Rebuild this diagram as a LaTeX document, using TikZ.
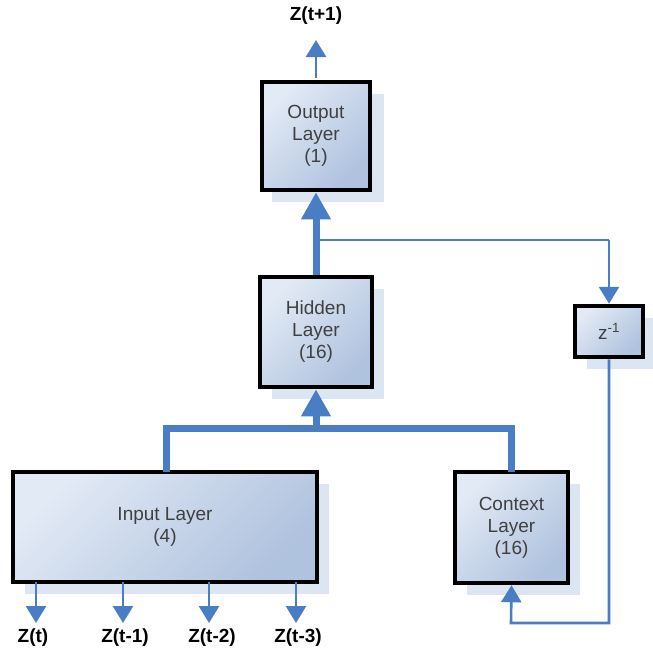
\documentclass[tikz,border=0pt]{standalone}
\usepackage{fontspec}
\setmainfont{Liberation Sans}
\usetikzlibrary{arrows.meta}
\definecolor{arr}{HTML}{4A7EC4}
\definecolor{shad}{HTML}{DCE5F2}
\definecolor{light}{HTML}{E2EAF5}
\definecolor{dark}{HTML}{AFC2DE}
\definecolor{txt}{HTML}{404040}
\tikzset{
  layer/.style={draw=black, line width=4.5pt, top color=light, bottom color=dark, shading angle=45,
    text=txt, font=\fontsize{19}{22}\selectfont, align=center, inner sep=0pt},
  shadowbox/.style={fill=shad, draw=none},
  thin/.style={draw=arr, line width=2.6pt},
  thick/.style={draw=arr, line width=7pt},
  thinarrow/.style={thin, -{Triangle[length=17pt,width=20pt]}},
  thickarrow/.style={thick, -{Triangle[length=27pt,width=28pt]}},
  lab/.style={font=\bfseries\fontsize{19}{22}\selectfont, text=black, inner sep=0pt}
}
\begin{document}
\begin{tikzpicture}[x=1pt,y=-1pt]
\useasboundingbox (0,0) rectangle (653,651);
% shadows
\fill[shad] (272,94) rectangle (384,202);
\fill[shad] (272,289) rectangle (384,399);
\fill[shad] (587,318) rectangle (655,369);
\fill[shad] (25,484) rectangle (329,594);
\fill[shad] (467,484) rectangle (580,595);
% boxes
\node[layer, minimum width=108pt, minimum height=108pt] (out) at (316,136) {Output\\Layer\\(1)};
\node[layer, minimum width=112pt, minimum height=110pt] (hid) at (316,332) {Hidden\\Layer\\(16)};
\node[layer, minimum width=68pt, minimum height=51pt] (z) at (609,331.5) {z\textsuperscript{-1}};
\node[layer, minimum width=304pt, minimum height=110pt] (in) at (165,527) {Input Layer\\(4)};
\node[layer, minimum width=113pt, minimum height=111pt] (ctx) at (511.5,527.5) {Context\\Layer\\(16)};
% coordinates
\coordinate (top) at (316,40);
\coordinate (br) at (316,240);
\coordinate (zr) at (609,240);
\coordinate (lowr) at (609,623);
\coordinate (lowl) at (511,623);
\coordinate (jn) at (316,428);
\coordinate (inl) at (166,428);
\coordinate (ctxr) at (511,428);
% labels
\node[lab] (zt1) at (316,16) {Z(t+1)};
\node[lab] (z0) at (33,638) {Z(t)};
\node[lab] (z1) at (125,638) {Z(t-1)};
\node[lab] (z2) at (212,638) {Z(t-2)};
\node[lab] (z3) at (298,638) {Z(t-3)};
% connectors
\draw[thinarrow] (out.north) ++(0,-2) -- (top);
\draw[thickarrow] (hid.north) -- (out.south);
\draw[thin] (br) -- (zr);
\draw[thinarrow] (zr) -- (z.north);
\draw[thinarrow, line join=miter] (z.south) -- (lowr) -- (lowl) -- (ctx.south);
\draw[thick, line join=miter] (166,472) -- (inl) -- (ctxr) -- (511,472);
\draw[thickarrow] (jn) -- (hid.south);
\foreach \x/\n in {36/z0,123/z1,209/z2,296/z3}{
  \draw[thinarrow] (\x,582) -- (\x,623);
}
\end{tikzpicture}
\end{document}
